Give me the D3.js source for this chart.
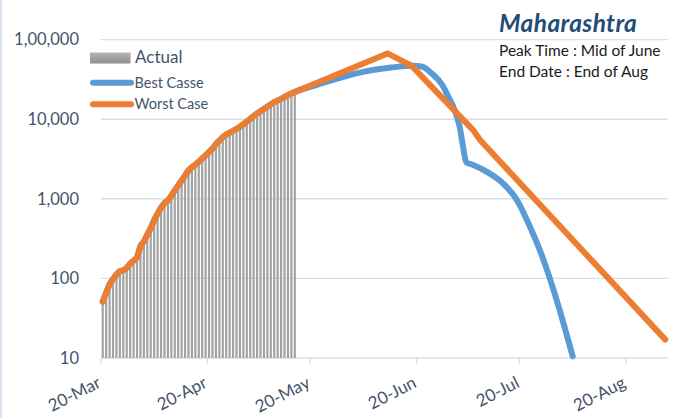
<!DOCTYPE html>
<html><head><meta charset="utf-8">
<script src="https://cdn.jsdelivr.net/npm/d3@7"></script>
<style>html,body{margin:0;padding:0;background:#fff;} svg{display:block;}</style>
</head><body>
<svg id="chart" width="679" height="418"></svg>
<script>
// ---------- data ----------
const actualStart = "2020-03-20";
const actualValues = [51, 66, 84, 98, 112, 123, 126, 136, 153, 167, 184, 255, 291, 355, 428, 538, 649, 773, 881, 949,
  1091, 1279, 1473, 1698, 1955, 2268, 2490, 2680, 2917, 3207, 3516, 3873, 4285, 4853, 5370, 5929, 6442, 6761, 7129, 7551,
  8051, 8630, 9311, 10100, 10970, 11800, 12610, 13470, 14360, 15350, 16410, 17130, 18000, 19010, 20090, 21090, 22000];
const bestDates = ["2020-05-23","2020-06-02","2020-06-12","2020-06-18","2020-06-21","2020-06-24","2020-06-27","2020-06-29",
  "2020-06-30","2020-07-01","2020-07-02","2020-07-03","2020-07-04","2020-07-06","2020-07-10","2020-07-15","2020-07-19",
  "2020-07-22","2020-07-26","2020-07-31","2020-08-04"];
const bestValues = [28300, 37700, 44500, 47000, 45900, 37300, 26900, 18200, 14960, 11590, 8240, 4630, 2870, 2660, 2180,
  1520, 927, 504, 195, 43, 10.5];
const worstDates = ["2020-06-11","2020-06-18","2020-07-06","2020-07-08","2020-08-31"];
const worstValues = [67000, 47000, 7300, 5480, 17];
const yTickValues = [10, 100, 1000, 10000, 100000];
const yTickLabels = ["10", "100", "1,000", "10,000", "1,00,000"];
const xTickDates = ["2020-03-20","2020-04-20","2020-05-20","2020-06-20","2020-07-20","2020-08-20"];
const xTickLabels = ["20-Mar","20-Apr","20-May","20-Jun","20-Jul","20-Aug"];
const seriesNames = ["Actual", "Best Casse", "Worst Case"];
const titleText = "Maharashtra";
const noteLines = ["Peak Time : Mid of June", "End Date : End of Aug"];

// ---------- setup ----------
const parse = d3.timeParse("%Y-%m-%d");
const svg = d3.select("#chart");
const FONT = "Lato, 'Open Sans', sans-serif";
const textCol = "#44546A";
const gridCol = "#DADEE4";
const blue = "#5B9BD5", orange = "#ED7D31";

const x = d3.scaleTime().domain([parse("2020-03-20"), parse("2020-09-01")]).range([101, 667]);
const y = d3.scaleLog().domain([10, 100000]).range([358, 39.6]);
const px = d => x(d3.timeHour.offset(d, 12));

const start = parse(actualStart);
const actual = actualValues.map((v, i) => ({date: d3.timeDay.offset(start, i), v}));
const best = actual.concat(bestDates.map((d, i) => ({date: parse(d), v: bestValues[i]})));
const worst = actual.concat(worstDates.map((d, i) => ({date: parse(d), v: worstValues[i]})));

// left border
svg.append("line").attr("x1", 1).attr("x2", 1).attr("y1", 0).attr("y2", 418)
  .attr("stroke", "#C8D8EA").attr("stroke-width", 1.5);

// gridlines
svg.append("g").selectAll("line").data(yTickValues).join("line")
  .attr("x1", 101).attr("x2", 668)
  .attr("y1", d => y(d)).attr("y2", d => y(d))
  .attr("stroke", gridCol).attr("stroke-width", 1.4);

// y axis labels
svg.append("g").selectAll("text").data(yTickValues).join("text")
  .attr("x", 79).attr("y", d => y(d)).attr("dy", "0.35em")
  .attr("text-anchor", "end").attr("font-family", FONT).attr("font-size", 16.5)
  .attr("fill", textCol).text((d, i) => yTickLabels[i]);

// x ticks + labels
const xt = xTickDates.map(parse);
svg.append("g").selectAll("line").data(xt).join("line")
  .attr("x1", d => x(d)).attr("x2", d => x(d)).attr("y1", 358).attr("y2", 364)
  .attr("stroke", gridCol).attr("stroke-width", 1.4);
svg.append("g").selectAll("text").data(xt).join("text")
  .attr("transform", d => `translate(${x(d) + 1},386.5) rotate(-27)`)
  .attr("text-anchor", "end").attr("font-family", FONT).attr("font-size", 17)
  .attr("fill", textCol).text((d, i) => xTickLabels[i]);

// legend swatch gradient
const defs = svg.append("defs");
const grad = defs.append("linearGradient").attr("id", "barGrad").attr("x1", 0).attr("x2", 0).attr("y1", 0).attr("y2", 1);
grad.append("stop").attr("offset", "0%").attr("stop-color", "#B4B4B4");
grad.append("stop").attr("offset", "100%").attr("stop-color", "#8E8E8E");

// bars
const bw = 2.2;
svg.append("g").selectAll("rect").data(actual).join("rect")
  .attr("x", d => px(d.date) - bw / 2).attr("width", bw)
  .attr("y", d => y(d.v)).attr("height", d => y(10) - y(d.v))
  .attr("fill", "#A3A3A3");

// lines
const lineSmooth = d3.line().x(d => px(d.date)).y(d => y(d.v)).curve(d3.curveMonotoneX);
const lineStraight = d3.line().x(d => px(d.date)).y(d => y(d.v));
svg.append("path").datum(best).attr("d", lineSmooth).attr("fill", "none")
  .attr("stroke", blue).attr("stroke-width", 6).attr("stroke-linecap", "round").attr("stroke-linejoin", "round");
svg.append("path").datum(worst).attr("d", lineStraight).attr("fill", "none")
  .attr("stroke", orange).attr("stroke-width", 6).attr("stroke-linecap", "round").attr("stroke-linejoin", "round");

// legend
const lg = svg.append("g");
lg.append("rect").attr("x", 90).attr("y", 52.5).attr("width", 40.5).attr("height", 11).attr("fill", "url(#barGrad)");
lg.append("text").attr("x", 135).attr("y", 63.3).attr("font-family", FONT).attr("font-size", 17)
  .attr("fill", textCol).text(seriesNames[0]);
[[blue, 82.7, 87.7, seriesNames[1]], [orange, 104.3, 109.3, seriesNames[2]]].forEach(([c, ly, ty, t]) => {
  lg.append("line").attr("x1", 93).attr("x2", 131).attr("y1", ly).attr("y2", ly)
    .attr("stroke", c).attr("stroke-width", 6).attr("stroke-linecap", "round");
  lg.append("text").attr("x", 134.5).attr("y", ty).attr("font-family", FONT).attr("font-size", 14.5)
    .attr("fill", textCol).text(t);
});

// title + notes
svg.append("text").attr("x", 499).attr("y", 31.7).attr("font-family", FONT).attr("font-size", 24.5)
  .attr("letter-spacing", 0.4).attr("font-weight", "bold").attr("font-style", "italic")
  .attr("fill", "#1F4E79").text(titleText);
svg.append("g").selectAll("text").data(noteLines).join("text")
  .attr("x", 499).attr("y", (d, i) => 56 + i * 21.3).attr("font-family", FONT).attr("font-size", 15.5)
  .attr("fill", "#1A1A1A").text(d => d);
</script>
</body></html>
